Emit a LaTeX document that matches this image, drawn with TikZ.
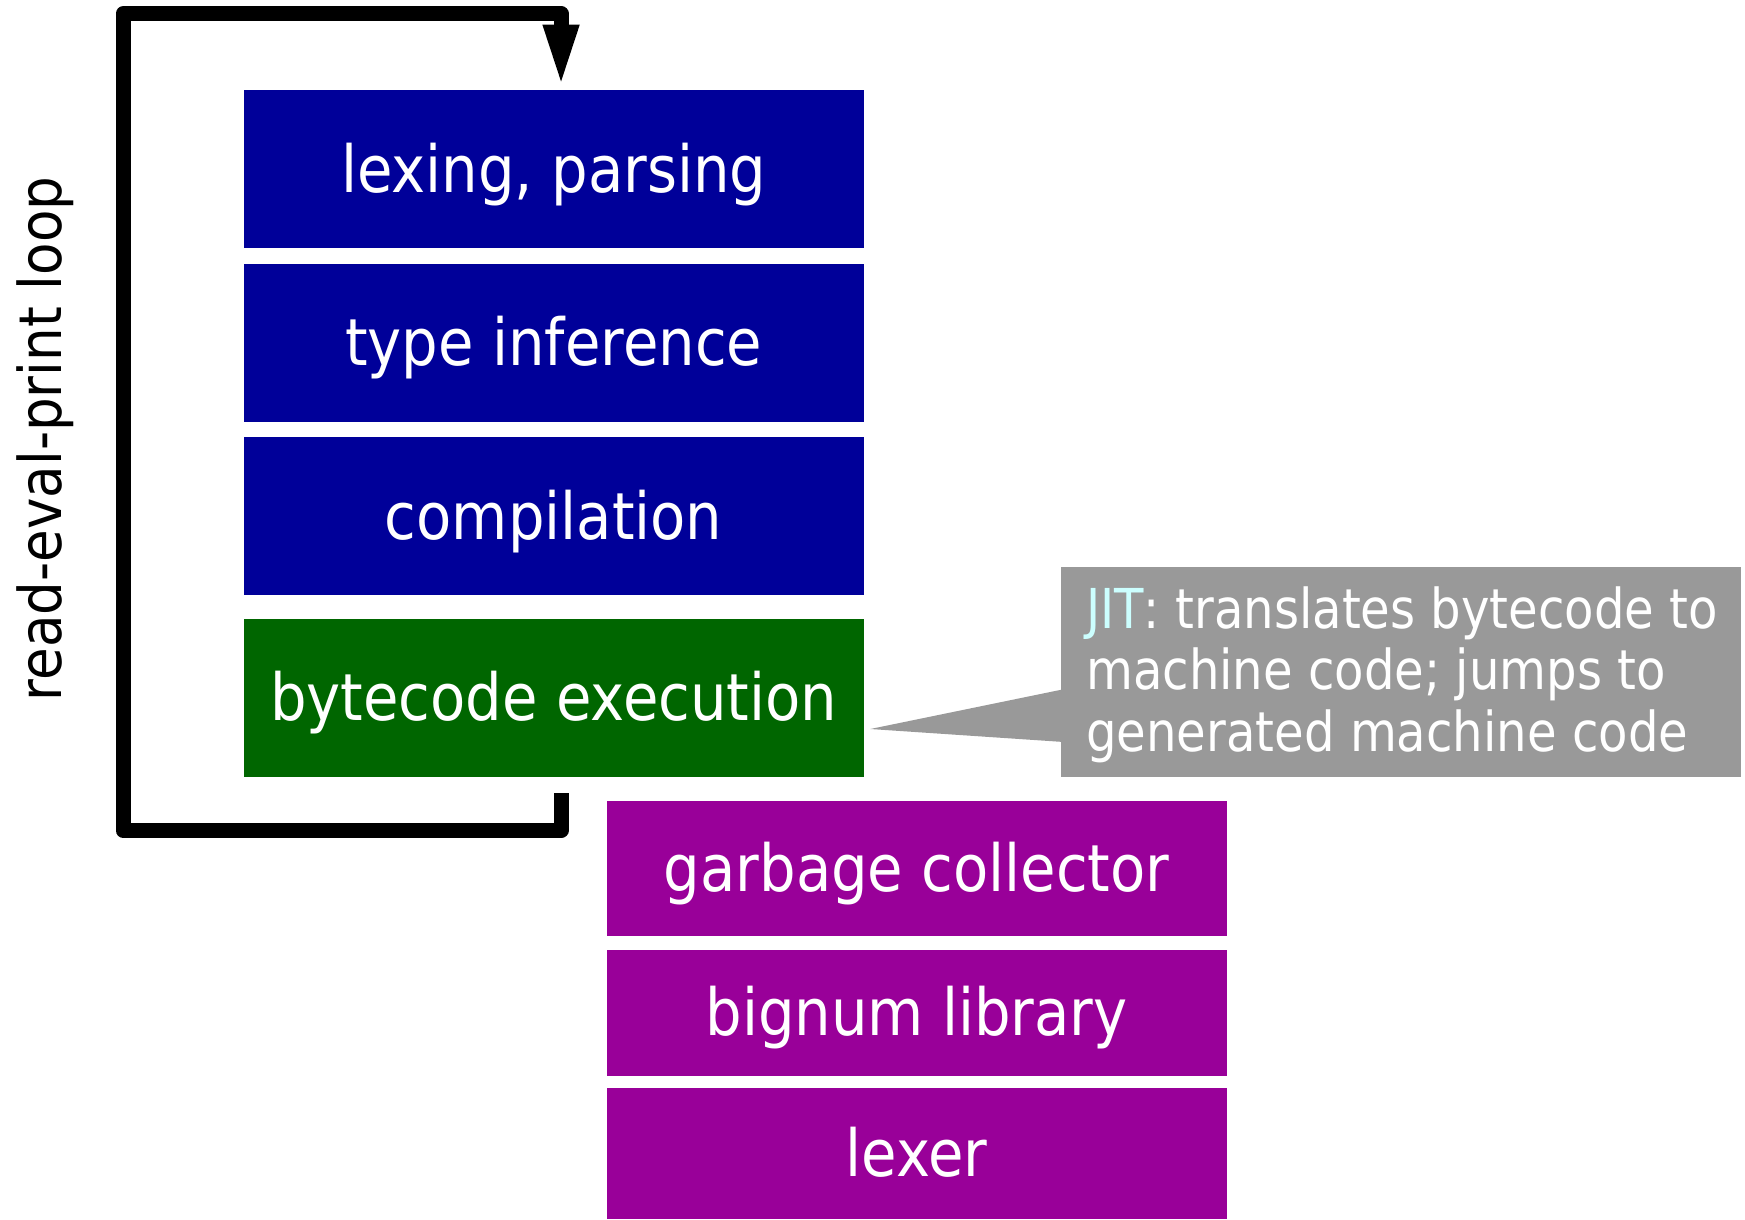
\documentclass[tikz,border=0pt]{standalone}
\usepackage{fontspec}
\setmainfont{DejaVu Sans}[FakeStretch=0.887]
\newfontfamily\jitfont{DejaVu Sans}[FakeStretch=0.875]
\newfontfamily\replfont{DejaVu Sans}[FakeStretch=0.90]
\usetikzlibrary{arrows.meta,calc}
\definecolor{stageblue}{RGB}{0,0,153}
\definecolor{execgreen}{RGB}{0,102,0}
\definecolor{rtpurple}{RGB}{153,0,153}
\definecolor{jitgray}{RGB}{153,153,153}
\definecolor{jitcyan}{RGB}{204,255,255}
\begin{document}
\begin{tikzpicture}[x=1pt,y=-1pt,
  stage/.style={rectangle, inner sep=0pt, minimum width=620pt, text=white,
    font=\fontsize{65}{78}\selectfont, text height=60pt, text depth=14pt},
  jitline/.style={anchor=base west, inner sep=0pt, text=white,
    font=\jitfont\fontsize{55}{62}\selectfont},
  loopline/.style={line width=15pt, line join=round,
    -{Triangle[width=37.5pt,length=57pt,line width=0pt]}}]
\useasboundingbox (0,0) rectangle (1745,1219);
% stages
\node[stage, fill=stageblue, minimum height=158.6pt] (lex) at (553.65,169) {lexing, parsing};
\node[stage, fill=stageblue, minimum height=158.2pt] (type) at (553.65,342.7) {type inference};
\node[stage, fill=stageblue, minimum height=158pt] (comp) at (553.65,516.4) {compilation};
\node[stage, fill=execgreen, minimum height=158pt] (exec) at (553.65,697.8) {bytecode execution};
% runtime
\node[stage, fill=rtpurple, minimum height=135.6pt] (gc) at (916.6,868.5) {garbage collector};
\node[stage, fill=rtpurple, minimum height=126pt] (big) at (916.6,1012.7) {bignum library};
\node[stage, fill=rtpurple, minimum height=131.3pt] (lexer) at (916.6,1153.4) {lexer};
% JIT callout
\node[fill=jitgray, inner sep=0pt, minimum width=680pt, minimum height=210.5pt] (jit) at (1400.6,671.75) {};
\coordinate (tip) at ($(exec.east)+(6.4,31.2)$);
\fill[jitgray] ($(jit.north west)+(0.5,123.5)$) -- (tip) -- ($(jit.north west)+(0.5,175.5)$) -- cycle;
\node[jitline] (j1) at (1086,628) {\textcolor{jitcyan}{JIT}: translates bytecode to};
\node[jitline] (j2) at (1086,689.5) {machine code; jumps to};
\node[jitline] (j3) at (1086,751) {generated machine code};
% loop
\node[rotate=90, anchor=base, inner sep=0pt, font=\replfont\fontsize{59}{70}\selectfont] (repl) at (61.7,439) {read-eval-print loop};
\coordinate (ls) at ($(exec.south)+(7.4,16)$);
\coordinate (le) at ($(lex.north)+(7.4,-8)$);
\draw[loopline] (ls) |- (123,830.5) -- (123,13.8) -| (le);
\end{tikzpicture}
\end{document}
